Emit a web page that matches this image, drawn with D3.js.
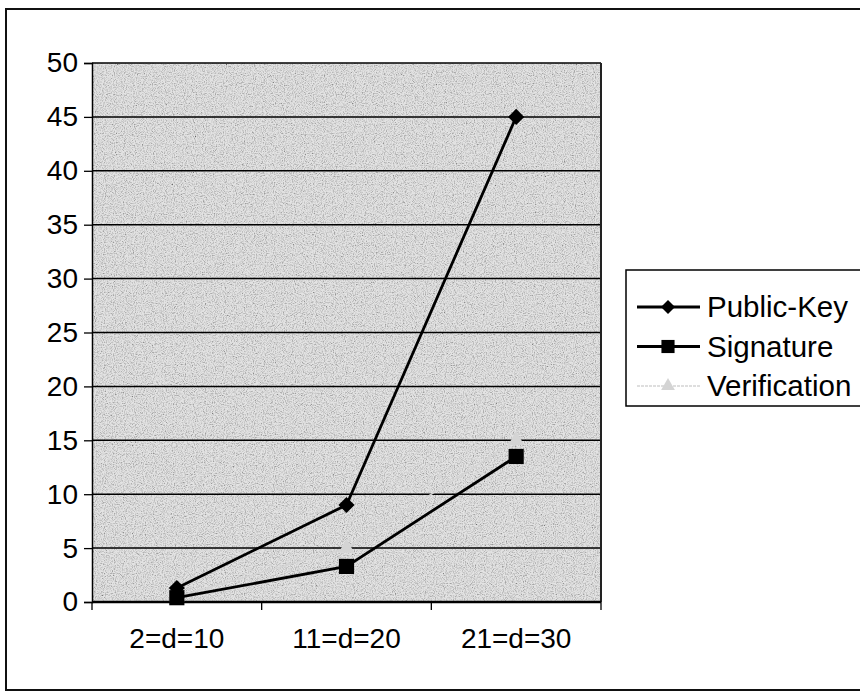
<!DOCTYPE html>
<html>
<head>
<meta charset="utf-8">
<script src="https://cdn.jsdelivr.net/npm/d3@7"></script>
<style>
  body { margin: 0; background: #fff; }
  text { font-family: "Liberation Sans", Arial, sans-serif; fill: #000; }
</style>
</head>
<body>
<div id="chart"></div>
<script>
// categories and series
let categories = ["2=d=10", "11=d=20", "21=d=30"];
let publicKey = [1.3, 9, 45];
let signature = [0.4, 3.3, 13.5];
let verification = [0.5, 5, 15];
let yTicks = [0, 5, 10, 15, 20, 25, 30, 35, 40, 45, 50];
let seriesNames = ["Public-Key", "Signature", "Verification"];

let width = 860, height = 696;
let plot = {left: 92, top: 63, right: 601, bottom: 602};

let svg = d3.select("#chart").append("svg")
    .attr("width", width)
    .attr("height", height);

// speckled background like the scanned plot area
let defs = svg.append("defs");
let f = defs.append("filter").attr("id", "grain")
    .attr("x", 0).attr("y", 0).attr("width", 1).attr("height", 1);
f.append("feTurbulence")
    .attr("type", "fractalNoise")
    .attr("baseFrequency", 0.9)
    .attr("numOctaves", 2)
    .attr("seed", 4);
f.append("feColorMatrix")
    .attr("type", "matrix")
    .attr("values", "2 0 0 0 -0.2  2 0 0 0 -0.2  2 0 0 0 -0.2  0 0 0 0 1");

// outer frame
svg.append("rect")
    .attr("x", 6).attr("y", 9)
    .attr("width", 870).attr("height", 681)
    .attr("fill", "none")
    .attr("stroke", "#111")
    .attr("stroke-width", 2);

let x = d3.scaleBand()
    .domain(categories)
    .range([plot.left, plot.right]);

let y = d3.scaleLinear()
    .domain([0, 50])
    .range([plot.bottom, plot.top]);

// plot area
svg.append("rect")
    .attr("x", plot.left).attr("y", plot.top)
    .attr("width", plot.right - plot.left)
    .attr("height", plot.bottom - plot.top)
    .attr("fill", "#c8c8c8");
svg.append("rect")
    .attr("x", plot.left).attr("y", plot.top)
    .attr("width", plot.right - plot.left)
    .attr("height", plot.bottom - plot.top)
    .attr("filter", "url(#grain)")
    .attr("opacity", 0.5);

// gridlines
svg.append("g")
    .selectAll("line")
    .data(yTicks.filter(d => d > 0))
    .join("line")
    .attr("x1", plot.left).attr("x2", plot.right)
    .attr("y1", d => y(d)).attr("y2", d => y(d))
    .attr("stroke", "#000")
    .attr("stroke-width", 1.5);

// right border of plot area
svg.append("line")
    .attr("x1", plot.right).attr("x2", plot.right)
    .attr("y1", plot.top).attr("y2", plot.bottom)
    .attr("stroke", "#222")
    .attr("stroke-width", 2);

// y axis
let yAxis = d3.axisLeft(y)
    .tickValues(yTicks)
    .tickSize(8)
    .tickPadding(6);
let yAxisGroup = svg.append("g")
    .attr("transform", "translate(" + plot.left + ",0)")
    .call(yAxis);
yAxisGroup.select(".domain").attr("stroke", "#000").attr("stroke-width", 1.5);
yAxisGroup.selectAll(".tick line").attr("stroke", "#000").attr("stroke-width", 1.3);
yAxisGroup.selectAll(".tick text")
    .style("font-size", "28px")
    .attr("fill", "#000");

// x axis: ticks at band edges
let xAxisGroup = svg.append("g")
    .attr("transform", "translate(0," + plot.bottom + ")");
xAxisGroup.append("line")
    .attr("x1", plot.left).attr("x2", plot.right)
    .attr("stroke", "#000").attr("stroke-width", 2.5);
let edges = categories.map(c => x(c)).concat([x.range()[1]]);
xAxisGroup.selectAll(".edge")
    .data(edges)
    .join("line")
    .attr("class", "edge")
    .attr("x1", d => d).attr("x2", d => d)
    .attr("y1", 0).attr("y2", 8)
    .attr("stroke", "#000")
    .attr("stroke-width", 1.3);
xAxisGroup.selectAll(".lbl")
    .data(categories)
    .join("text")
    .attr("class", "lbl")
    .attr("x", d => x(d) + x.bandwidth() / 2)
    .attr("y", 46)
    .attr("text-anchor", "middle")
    .style("font-size", "28px")
    .text(d => d);

let cx = d => x(d) + x.bandwidth() / 2;

let line = d3.line()
    .x((d, i) => cx(categories[i]))
    .y(d => y(d));

// Excel-style diamond: a square turned 45 degrees
let diamond = {
    draw(ctx, size) {
        let r = Math.sqrt(size / 2);
        ctx.moveTo(0, -r);
        ctx.lineTo(r, 0);
        ctx.lineTo(0, r);
        ctx.lineTo(-r, 0);
        ctx.closePath();
    }
};

let series = [
    {name: seriesNames[0], values: publicKey, color: "#000", width: 2.8, symbol: diamond, size: 130},
    {name: seriesNames[1], values: signature, color: "#000", width: 2.8, symbol: d3.symbolSquare, size: 230},
    {name: seriesNames[2], values: verification, color: "#d4d4d4", width: 1.5, symbol: d3.symbolTriangle, size: 110}
];

// draw verification first so the darker lines sit on top
series.slice().reverse().forEach(s => {
    svg.append("path")
        .datum(s.values)
        .attr("d", line)
        .attr("fill", "none")
        .attr("stroke", s.color)
        .attr("stroke-width", s.width);

    svg.append("g")
        .selectAll("path")
        .data(s.values)
        .join("path")
        .attr("transform", (d, i) => "translate(" + cx(categories[i]) + "," + y(d) + ")")
        .attr("d", d3.symbol().type(s.symbol).size(s.size))
        .attr("fill", s.color);
});

// legend
let legend = svg.append("g").attr("transform", "translate(626,270)");
legend.append("rect")
    .attr("width", 240).attr("height", 136)
    .attr("fill", "#fff")
    .attr("stroke", "#000")
    .attr("stroke-width", 1.5);

let items = legend.selectAll(".item")
    .data(series)
    .join("g")
    .attr("class", "item")
    .attr("transform", (d, i) => "translate(0," + (37 + i * 39.5) + ")");
items.append("line")
    .attr("x1", 11).attr("x2", 74)
    .attr("stroke", d => d.color)
    .attr("stroke-width", d => d.width)
    .attr("stroke-dasharray", d => d.name === "Verification" ? "3,1" : null);
items.append("path")
    .attr("transform", "translate(42,0)")
    .attr("d", d => d3.symbol().type(d.symbol).size(d.size * 0.75)())
    .attr("fill", d => d.color);
items.append("text")
    .attr("x", 81)
    .attr("y", 10)
    .style("font-size", "29.5px")
    .text(d => d.name);
</script>
</body>
</html>
